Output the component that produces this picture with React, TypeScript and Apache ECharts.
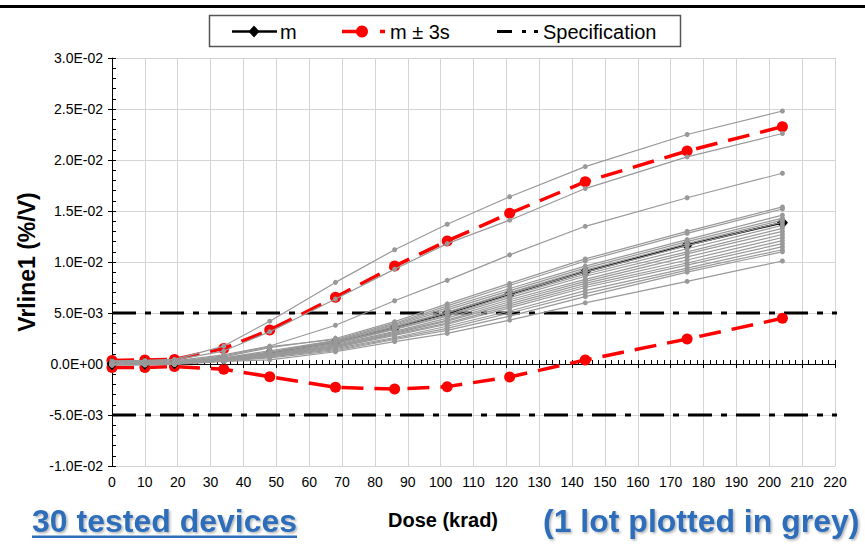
import React, { useEffect, useRef } from "react";
import * as echarts from "echarts";

// Dose values (krad)
const doses = [0, 10, 19, 34, 48, 68, 86, 102, 121, 144, 175, 204];

// Values in units of 1E-3 %/V
const meanValues = [0, 0.05, 0.1, 0.5, 1.05, 2.15, 3.56, 4.97, 6.86, 9.05, 11.67, 13.85];
const upperValues = [0.35, 0.4, 0.45, 1.53, 3.33, 6.54, 9.6, 12.06, 14.77, 17.87, 20.88, 23.27];
const lowerValues = [-0.35, -0.35, -0.25, -0.52, -1.24, -2.29, -2.45, -2.22, -1.27, 0.39, 2.45, 4.48];

const greyDevices: number[][] = [
  [0.3, 0.35, 0.45, 1.76, 4.2, 8.0, 11.2, 13.7, 16.4, 19.35, 22.5, 24.8],
  [0.25, 0.3, 0.4, 1.27, 3.17, 6.37, 9.3, 11.8, 14.1, 17.2, 20.3, 22.6],
  [0.2, 0.25, 0.3, 0.9, 1.76, 3.8, 6.2, 8.2, 10.7, 13.5, 16.3, 18.7],
  [0.1, 0.15, 0.2, 0.7, 1.6, 2.5, 4.15, 5.9, 7.9, 10.3, 13.0, 15.4],
  [0.05, 0.1, 0.2, 0.8, 1.7, 2.4, 4.0, 5.7, 7.7, 10.1, 12.8, 15.2],
  [0.05, 0.1, 0.15, 0.6, 1.3, 2.3, 3.9, 5.5, 7.4, 9.6, 12.2, 14.6],
  [0, 0.1, 0.15, 0.55, 1.2, 2.3, 3.8, 5.3, 7.2, 9.4, 12.0, 14.3],
  [0, 0.05, 0.1, 0.5, 1.15, 2.2, 3.7, 5.1, 7.0, 9.2, 11.8, 14.1],
  [0, 0.05, 0.1, 0.5, 1.1, 2.2, 3.6, 5.0, 6.9, 9.0, 11.6, 13.9],
  [0, 0.05, 0.1, 0.45, 1.0, 2.1, 3.5, 4.8, 6.7, 8.8, 11.3, 13.6],
  [0, 0, 0.1, 0.45, 1.0, 2.0, 3.4, 4.7, 6.5, 8.6, 11.0, 13.3],
  [0, 0, 0.05, 0.4, 0.95, 1.9, 3.2, 4.5, 6.3, 8.3, 10.8, 13.0],
  [0, 0, 0.05, 0.4, 0.9, 1.8, 3.1, 4.3, 6.1, 8.1, 10.5, 12.7],
  [-0.05, 0, 0.05, 0.4, 0.9, 1.7, 3.0, 4.2, 5.9, 7.9, 10.2, 12.4],
  [-0.05, 0, 0.05, 0.35, 0.85, 1.7, 2.9, 4.0, 5.7, 7.7, 9.9, 12.1],
  [-0.05, -0.05, 0, 0.35, 0.8, 1.6, 2.8, 3.9, 5.5, 7.5, 9.7, 11.8],
  [-0.05, -0.05, 0, 0.3, 0.75, 1.5, 2.6, 3.7, 5.2, 7.2, 9.4, 11.5],
  [-0.1, -0.05, 0, 0.3, 0.7, 1.4, 2.5, 3.5, 5.0, 6.9, 9.2, 11.2],
  [-0.1, -0.05, 0, 0.3, 0.6, 1.3, 2.4, 3.3, 4.7, 6.6, 9.0, 11.0],
  [-0.1, -0.1, -0.05, 0.25, 0.4, 1.2, 2.2, 3.0, 4.3, 6.0, 8.1, 10.1],
];

// Specification limits (1E-3 units) and their drawn dose extent
const specLimits = [5, -5];
const specDoseRange = [0, 228];

// Axis ticks
const yTickValues = [-10, -5, 0, 5, 10, 15, 20, 25, 30];
const yTickLabels = ["-1.0E-02", "-5.0E-03", "0.0E+00", "5.0E-03", "1.0E-02", "1.5E-02", "2.0E-02", "2.5E-02", "3.0E-02"];

const FONT = "'Liberation Sans', Arial, Helvetica, sans-serif";
const BLUE = "#2E6DB9";

function pairs(vals: number[]) {
  return doses.map((d, i) => [d, vals[i]]);
}

export default function App() {
  const ref = useRef<HTMLDivElement>(null);
  useEffect(() => {
    if (!ref.current) return;
    const chart = echarts.init(ref.current, undefined, { renderer: "svg" });

    const series: any[] = [];
    specLimits.forEach((lim) => {
      series.push({
        name: "Specification",
        type: "line",
        data: specDoseRange.map((d) => [d, lim]),
        symbol: "none",
        clip: false,
        lineStyle: { color: "#000", width: 3, type: [24, 9, 6, 9] },
        z: 2,
        silent: true,
      });
    });
    series.push({
      name: "m + 3s",
      type: "line",
      data: pairs(upperValues),
      symbol: "circle",
      symbolSize: 11,
      itemStyle: { color: "#FF0000" },
      lineStyle: { color: "#FF0000", width: 3.5, type: [22, 11] },
      z: 3,
    });
    series.push({
      name: "m - 3s",
      type: "line",
      data: pairs(lowerValues),
      symbol: "circle",
      symbolSize: 11,
      itemStyle: { color: "#FF0000" },
      lineStyle: { color: "#FF0000", width: 3.5, type: [22, 11] },
      z: 3,
    });
    series.push({
      name: "m",
      type: "line",
      data: pairs(meanValues),
      symbol: "diamond",
      symbolSize: [11, 13],
      itemStyle: { color: "#000" },
      lineStyle: { color: "#000", width: 2 },
      z: 4,
    });
    greyDevices.forEach((vals, i) => {
      series.push({
        name: "device " + (i + 1),
        type: "line",
        data: pairs(vals),
        symbol: "circle",
        symbolSize: 5,
        itemStyle: { color: "#999999" },
        lineStyle: { color: "#999999", width: 1.2 },
        z: 5,
      });
    });

    const yLabel = (v: number) => {
      const idx = yTickValues.findIndex((t) => Math.abs(t - v) < 1e-6);
      return idx >= 0 ? yTickLabels[idx] : "";
    };

    chart.setOption({
      animation: false,
      backgroundColor: "#fff",
      grid: { left: 112, right: 30, top: 58, bottom: 81, containLabel: false },
      xAxis: [
        {
          type: "value",
          min: 0,
          max: 220,
          interval: 10,
          axisLine: { show: true, lineStyle: { color: "#000", width: 1 } },
          axisTick: { show: true, inside: false, length: 4, lineStyle: { color: "#000" } },
          axisLabel: { fontSize: 14, color: "#000", fontFamily: FONT, margin: 9 },
          splitLine: { show: true, lineStyle: { color: "#D4D4D4", width: 1 } },
        },
        {
          type: "value",
          min: 0,
          max: 220,
          interval: 2,
          position: "bottom",
          axisLine: { show: false },
          axisTick: { show: true, inside: true, length: 4, lineStyle: { color: "#000" } },
          axisLabel: { show: false },
          splitLine: { show: false },
        },
      ],
      yAxis: [
        {
          type: "value",
          min: -10,
          max: 30,
          interval: 5,
          name: "Vrline1 (%/V)",
          nameLocation: "middle",
          nameGap: 64,
          nameTextStyle: { fontSize: 23, fontWeight: "bold", color: "#000", fontFamily: FONT },
          axisLine: { show: true, lineStyle: { color: "#000", width: 1 } },
          axisTick: { show: true, inside: false, length: 4, lineStyle: { color: "#000" } },
          axisLabel: { fontSize: 14, color: "#000", fontFamily: FONT, margin: 9, formatter: yLabel },
          splitLine: { show: true, lineStyle: { color: "#D4D4D4", width: 1 } },
        },
        {
          type: "value",
          min: -10,
          max: 30,
          interval: 1,
          position: "left",
          axisLine: { show: false },
          axisTick: { show: true, inside: true, length: 4, lineStyle: { color: "#000" } },
          axisLabel: { show: false },
          splitLine: { show: false },
        },
      ],
      series,
      graphic: [
        { type: "rect", shape: { x: 0, y: 5, width: 865, height: 3 }, style: { fill: "#000" } },
        {
          type: "rect",
          shape: { x: 209.5, y: 15.5, width: 471, height: 31 },
          style: { fill: "#fff", stroke: "#555", lineWidth: 1.5 },
          z: 10,
        },
        { type: "line", shape: { x1: 232, y1: 31.5, x2: 277, y2: 31.5 }, style: { stroke: "#000", lineWidth: 2.5 }, z: 11 },
        {
          type: "polygon",
          shape: { points: [[254, 25.5], [259.5, 31.5], [254, 37.5], [248.5, 31.5]] },
          style: { fill: "#000" },
          z: 11,
        },
        {
          type: "text",
          x: 280,
          y: 31.5,
          style: { text: "m", font: "20px " + FONT, fill: "#000", textVerticalAlign: "middle", textAlign: "left" },
          z: 11,
        },
        { type: "line", shape: { x1: 342, y1: 31.5, x2: 361, y2: 31.5 }, style: { stroke: "#FF0000", lineWidth: 3.5 }, z: 11 },
        { type: "circle", shape: { cx: 362, cy: 31.5, r: 6 }, style: { fill: "#FF0000" }, z: 11 },
        { type: "line", shape: { x1: 380, y1: 31.5, x2: 385, y2: 31.5 }, style: { stroke: "#FF0000", lineWidth: 3.5 }, z: 11 },
        {
          type: "text",
          x: 390,
          y: 31.5,
          style: { text: "m ± 3s", font: "20px " + FONT, fill: "#000", textVerticalAlign: "middle", textAlign: "left" },
          z: 11,
        },
        { type: "line", shape: { x1: 497, y1: 31.5, x2: 512, y2: 31.5 }, style: { stroke: "#000", lineWidth: 3 }, z: 11 },
        { type: "line", shape: { x1: 522, y1: 31.5, x2: 526, y2: 31.5 }, style: { stroke: "#000", lineWidth: 3 }, z: 11 },
        { type: "line", shape: { x1: 534, y1: 31.5, x2: 538, y2: 31.5 }, style: { stroke: "#000", lineWidth: 3 }, z: 11 },
        {
          type: "text",
          x: 543,
          y: 31.5,
          style: { text: "Specification", font: "20px " + FONT, fill: "#000", textVerticalAlign: "middle", textAlign: "left" },
          z: 11,
        },
        {
          type: "text",
          x: 443,
          y: 520,
          style: {
            text: "Dose (krad)",
            font: "bold 20px " + FONT,
            fill: "#000",
            textVerticalAlign: "middle",
            textAlign: "center",
          },
        },
        {
          type: "text",
          x: 32,
          y: 521,
          style: {
            text: "30 tested devices",
            font: "bold 32px " + FONT,
            fill: BLUE,
            textVerticalAlign: "middle",
            textAlign: "left",
            textShadowColor: "rgba(0,0,0,0.3)",
            textShadowBlur: 2,
            textShadowOffsetX: 1.5,
            textShadowOffsetY: 1.5,
          },
        },
        { type: "rect", shape: { x: 32, y: 535.5, width: 265, height: 2.5 }, style: { fill: BLUE } },
        {
          type: "text",
          x: 543,
          y: 521,
          style: {
            text: "(1 lot plotted in grey)",
            font: "bold 32px " + FONT,
            fill: BLUE,
            textVerticalAlign: "middle",
            textAlign: "left",
            textShadowColor: "rgba(0,0,0,0.3)",
            textShadowBlur: 2,
            textShadowOffsetX: 1.5,
            textShadowOffsetY: 1.5,
          },
        },
      ],
    });
    return () => chart.dispose();
  }, []);

  return (
    <div
      ref={ref}
      style={{ position: "fixed", left: 0, top: 0, width: 865, height: 547, background: "#fff" }}
    />
  );
}
